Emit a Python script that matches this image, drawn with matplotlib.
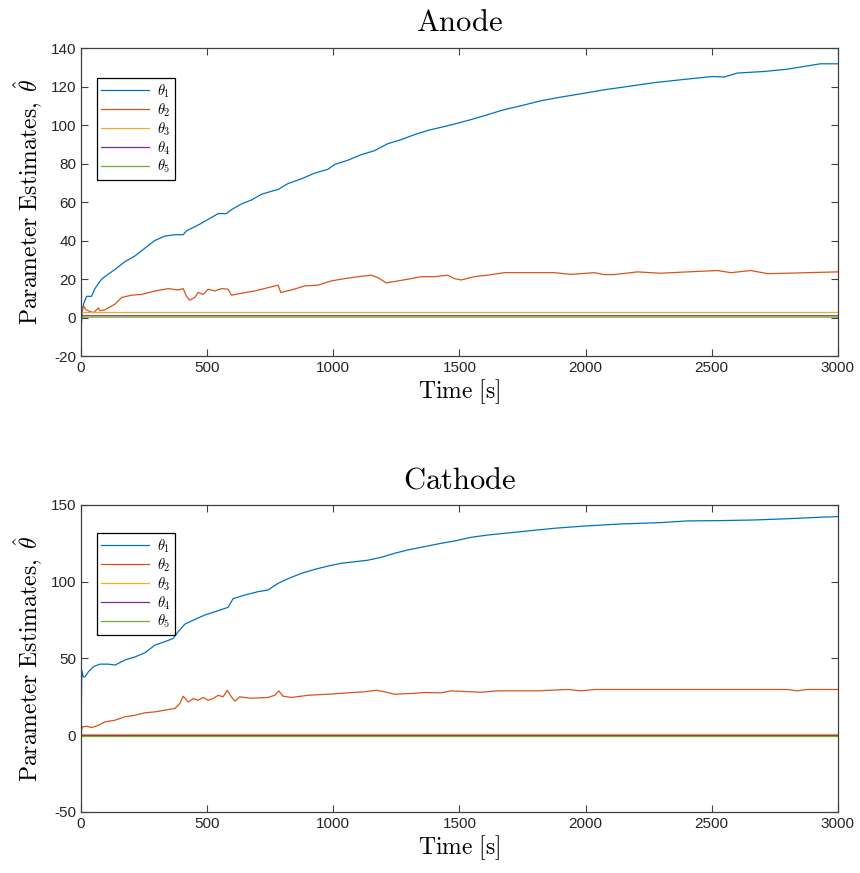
import matplotlib
matplotlib.use("Agg")
import matplotlib.pyplot as plt

plt.rcParams["mathtext.fontset"] = "cm"
plt.rcParams["font.family"] = ["Liberation Sans", "DejaVu Sans"]
plt.rcParams["axes.unicode_minus"] = False

# MATLAB default colour order
colors = ["#0072BD", "#D95319", "#EDB120", "#7E2F8E", "#77AC30"]
labels = [r"$\theta_1$", r"$\theta_2$", r"$\theta_3$", r"$\theta_4$", r"$\theta_5$"]

# ---- Anode ----
an_t1 = [0, 5, 10, 22, 42, 55, 82, 108, 135, 174, 214, 253, 293, 332, 372, 405, 418,
         464, 504, 544, 577, 596, 636, 675, 715, 755, 781, 821, 873, 926, 979, 1005,
         1058, 1111, 1164, 1216, 1269, 1322, 1375, 1427, 1480, 1546, 1612, 1678, 1744,
         1823, 1902, 1999, 2074, 2166, 2272, 2377, 2503, 2549, 2602, 2707, 2800, 2879,
         2931, 3000]
an_th1 = [-6, 3, 7, 11, 11, 15, 20, 22.5, 25, 29, 32, 36, 40, 42.3, 43, 43, 45,
          48, 51, 54, 54, 56, 59, 61, 64, 65.6, 66.5, 69.6, 72, 75, 77, 79.5,
          81.7, 84.6, 86.7, 90.3, 92.4, 95, 97.2, 98.8, 100.5, 102.8, 105.4, 108, 110,
          112.6, 114.5, 116.6, 118.3, 120, 122, 123.5, 125.2, 124.9, 127, 127.8, 129, 130.7,
          131.8, 131.8]

an_t2 = [0, 10, 20, 29, 50, 69, 75, 95, 135, 161, 200, 240, 293, 346, 385, 405, 418,
         431, 451, 464, 484, 504, 530, 557, 583, 596, 636, 689, 741, 781, 792, 834,
         887, 939, 992, 1045, 1098, 1150, 1177, 1210, 1256, 1296, 1348, 1401, 1454,
         1480, 1507, 1559, 1612, 1678, 1744, 1876, 1942, 2035, 2074, 2113, 2206, 2298,
         2404, 2523, 2576, 2655, 2721, 2800, 2879, 3000]
an_th2 = [2, 6, 4, 3.5, 2.5, 5, 3.5, 4, 7, 10.4, 11.6, 12, 13.8, 15, 14.3, 15, 11,
          9, 10.4, 13, 12, 14.7, 13.8, 15, 14.7, 11.6, 12.6, 13.8, 15.5, 16.8, 13, 14.3,
          16.4, 16.8, 19, 20.2, 21.2, 22, 20.7, 18, 19, 19.9, 21.2, 21.2, 22,
          20.2, 19.5, 21.2, 22, 23.3, 23.3, 23.3, 22.4, 23.3, 22.3, 22.3, 23.7, 23,
          23.7, 24.4, 23.3, 24.4, 22.8, 23, 23.3, 23.7]

an_t345 = [0, 5, 3000]
an_th3 = [3.5, 2.6, 2.6]
an_th4 = [-1.0, 0.9, 0.9]
an_th5 = [0.5, 0.2, 0.2]

# ---- Cathode ----
ca_t1 = [0, 3, 9, 16, 29, 49, 75, 108, 135, 174, 214, 253, 293, 332, 365, 385, 412,
         451, 491, 530, 583, 603, 649, 702, 741, 781, 821, 873, 926, 979, 1032, 1084,
         1137, 1190, 1243, 1296, 1361, 1427, 1480, 1546, 1612, 1744, 1876, 1999, 2140,
         2298, 2404, 2536, 2668, 2800, 2931, 3000]
ca_th1 = [0, 42.4, 38, 38, 41.3, 44.6, 46.3, 46.3, 45.7, 49, 51, 53.7, 58.7, 60.9, 63, 67.4, 72.4,
          75.4, 78.3, 80.4, 83.3, 89, 91.3, 93.5, 94.6, 98.9, 102, 105.4, 108, 110.2, 112, 113,
          114, 115.9, 118.5, 120.7, 122.8, 125, 126.5, 128.9, 130.4, 132.6, 134.8, 136.3, 137.6,
          138.5, 139.6, 139.8, 140.2, 141, 142, 142.4]

ca_t2 = [0, 5, 22, 42, 69, 95, 135, 174, 214, 253, 293, 332, 372, 392, 405, 425, 445,
         464, 484, 504, 524, 544, 563, 580, 596, 610, 629, 675, 741, 768, 784, 801, 834,
         900, 979, 1058, 1124, 1170, 1203, 1243, 1309, 1361, 1427, 1467, 1520, 1586, 1652,
         1810, 1929, 1982, 2035, 2272, 2536, 2800, 2839, 2879, 3000]
ca_th2 = [1, 5.4, 5.9, 5, 6.5, 8.7, 9.8, 12, 13, 14.6, 15.2, 16.3, 17.4, 20.7, 25.4, 21.7, 23.9,
          22.8, 24.6, 22.8, 23.9, 26, 25, 29.3, 25, 22.2, 25, 24.1, 24.6, 26, 28.9, 25.4, 24.6,
          26, 26.7, 27.6, 28.3, 29.3, 28.3, 26.7, 27.2, 27.8, 27.6, 28.9, 28.5, 28, 28.9,
          28.9, 29.8, 28.9, 29.8, 29.8, 29.8, 29.8, 28.9, 29.8, 29.8]

ca_t345 = [0, 3000]
ca_th3 = [1.1, 1.1]
ca_th4 = [0.4, 0.4]
ca_th5 = [-0.4, -0.4]

axis_col = "#404040"


def draw(ax, series, title, ylim, yticks, leg_top):
	for (t, y), c, lab in zip(series, colors, labels):
		ax.plot(t, y, color=c, lw=0.9, label=lab)
	ax.set_xlim(0, 3000)
	ax.set_ylim(*ylim)
	ax.set_xticks(range(0, 3001, 500))
	ax.set_yticks(yticks)
	ax.tick_params(direction="in", top=True, right=True, length=5, width=0.8,
				   colors=axis_col, labelsize=11, labelcolor="#262626")
	for sp in ax.spines.values():
		sp.set_color(axis_col)
		sp.set_linewidth(0.9)
	ax.set_title(r"$\mathrm{%s}$" % title, fontsize=22, pad=12)
	ax.set_xlabel(r"$\mathrm{Time\ [s]}$", fontsize=17, labelpad=2)
	ax.set_ylabel(r"$\mathrm{Parameter\ Estimates,}\ \hat{\theta}$", fontsize=17, labelpad=4)
	leg = ax.legend(loc="upper left", bbox_to_anchor=(0.021, leg_top), borderaxespad=0,
					fontsize=10.5, handlelength=3.3, handletextpad=0.5, fancybox=False,
					framealpha=1, edgecolor="black", labelspacing=0.1, borderpad=0.3)
	leg.get_frame().set_linewidth(0.9)


fig = plt.figure(figsize=(8.6, 8.73), dpi=100)
ax1 = fig.add_axes([0.0942, 0.5922, 0.880, 0.3528])
ax2 = fig.add_axes([0.0942, 0.0699, 0.880, 0.3517])

draw(ax1, [(an_t1, an_th1), (an_t2, an_th2), (an_t345, an_th3), (an_t345, an_th4), (an_t345, an_th5)],
	 "Anode", (-20, 140), range(-20, 141, 20), 0.903)
draw(ax2, [(ca_t1, ca_th1), (ca_t2, ca_th2), (ca_t345, ca_th3), (ca_t345, ca_th4), (ca_t345, ca_th5)],
	 "Cathode", (-50, 150), range(-50, 151, 50), 0.909)

fig.savefig("out.png", dpi=100)
